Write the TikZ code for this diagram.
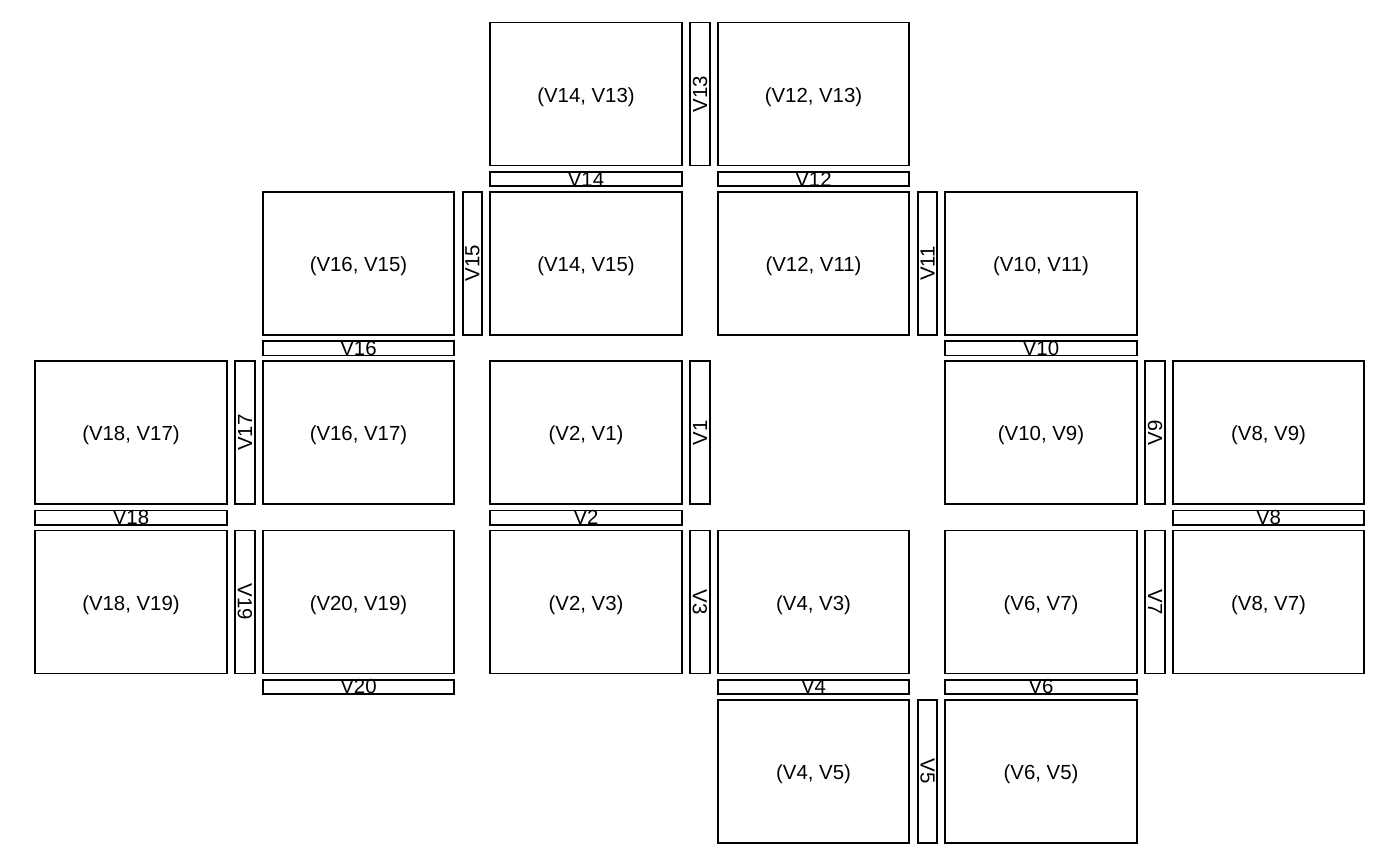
\documentclass[tikz,border=0pt]{standalone}
\usepackage{fontspec}
\setmainfont{Liberation Sans}
\begin{document}
\begin{tikzpicture}[
  cellbox/.style={draw, rectangle, line width=0.5pt, minimum width=1.915cm, minimum height=1.43cm, inner sep=0pt, text height=4.68pt, text depth=0pt, font=\fontsize{5.8}{7}\selectfont},
  hbar/.style={draw, rectangle, line width=0.5pt, minimum width=1.915cm, minimum height=0.14cm, inner sep=0pt, font=\fontsize{5.8}{7}\selectfont},
  vbar/.style={draw, rectangle, line width=0.5pt, minimum width=1.43cm, minimum height=0.195cm, inner sep=0pt, font=\fontsize{5.8}{7}\selectfont}
]
\useasboundingbox (0,0) rectangle (14,-8.66);
% row 1
\node[cellbox] (c1413) at (5.860,-0.941) {(V14, V13)};
\node[vbar, rotate=90] (v13) at (7.000,-0.941) {V13};
\node[cellbox] (c1213) at (8.135,-0.941) {(V12, V13)};
\node[hbar] (h14) at (5.860,-1.790) {V14};
\node[hbar] (h12) at (8.135,-1.790) {V12};
% row 2
\node[cellbox] (c1615) at (3.585,-2.634) {(V16, V15)};
\node[vbar, rotate=90] (v15) at (4.725,-2.634) {V15};
\node[cellbox] (c1415) at (5.860,-2.634) {(V14, V15)};
\node[cellbox] (c1211) at (8.135,-2.634) {(V12, V11)};
\node[vbar, rotate=90] (v11) at (9.275,-2.634) {V11};
\node[cellbox] (c1011) at (10.410,-2.634) {(V10, V11)};
\node[hbar] (h16) at (3.585,-3.483) {V16};
\node[hbar] (h10) at (10.410,-3.483) {V10};
% row 3
\node[cellbox] (c1817) at (1.310,-4.327) {(V18, V17)};
\node[vbar, rotate=90] (v17) at (2.450,-4.327) {V17};
\node[cellbox] (c1617) at (3.585,-4.327) {(V16, V17)};
\node[cellbox] (c0201) at (5.860,-4.327) {(V2, V1)};
\node[vbar, rotate=90] (v1) at (7.000,-4.327) {V1};
\node[cellbox] (c1009) at (10.410,-4.327) {(V10, V9)};
\node[vbar, rotate=90] (v9) at (11.550,-4.327) {V9};
\node[cellbox] (c0809) at (12.685,-4.327) {(V8, V9)};
\node[hbar] (h18) at (1.310,-5.176) {V18};
\node[hbar] (h2) at (5.860,-5.176) {V2};
\node[hbar] (h8) at (12.685,-5.176) {V8};
% row 4
\node[cellbox] (c1819) at (1.310,-6.020) {(V18, V19)};
\node[vbar, rotate=-90] (v19) at (2.450,-6.020) {V19};
\node[cellbox] (c2019) at (3.585,-6.020) {(V20, V19)};
\node[cellbox] (c0203) at (5.860,-6.020) {(V2, V3)};
\node[vbar, rotate=-90] (v3) at (7.000,-6.020) {V3};
\node[cellbox] (c0403) at (8.135,-6.020) {(V4, V3)};
\node[cellbox] (c0607) at (10.410,-6.020) {(V6, V7)};
\node[vbar, rotate=-90] (v7) at (11.550,-6.020) {V7};
\node[cellbox] (c0807) at (12.685,-6.020) {(V8, V7)};
\node[hbar] (h20) at (3.585,-6.869) {V20};
\node[hbar] (h4) at (8.135,-6.869) {V4};
\node[hbar] (h6) at (10.410,-6.869) {V6};
% row 5
\node[cellbox] (c0405) at (8.135,-7.713) {(V4, V5)};
\node[vbar, rotate=-90] (v5) at (9.275,-7.713) {V5};
\node[cellbox] (c0605) at (10.410,-7.713) {(V6, V5)};
\end{tikzpicture}
\end{document}
